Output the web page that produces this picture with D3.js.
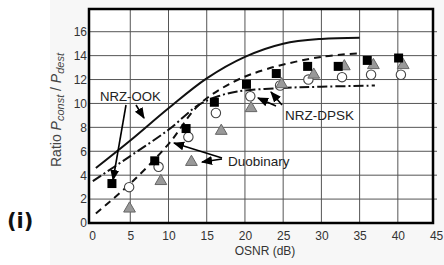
<!DOCTYPE html>
<html lang="en">
<head>
<meta charset="utf-8">
<title>Ratio vs OSNR</title>
<script src="https://d3js.org/d3.v7.min.js"></script>
<style>
  body { margin: 0; background: #fff; }
  svg { display: block; }
  .lbl { font-family: "Liberation Sans", Arial, sans-serif; fill: #222; }
  .tick text { font-family: "Liberation Sans", Arial, sans-serif; font-size: 12px; fill: #333; }
</style>
</head>
<body>
<script>
// tick labels
var xTicks = [0, 5, 10, 15, 20, 25, 30, 35, 40, 45];
var yTicks = [0, 2, 4, 6, 8, 10, 12, 14, 16];

var ookX = [2.6, 8.2, 12.3, 16.0, 20.2, 24.1, 28.2, 32.2, 36.0, 40.1];
var ookY = [3.3, 5.2, 7.9, 10.1, 11.6, 12.5, 13.1, 13.1, 13.6, 13.8];
var dpskX = [4.85, 8.7, 12.6, 16.2, 20.7, 24.6, 28.3, 32.7, 36.5, 40.4];
var dpskY = [3.0, 4.7, 7.2, 9.2, 10.6, 11.5, 12.0, 12.2, 12.4, 12.4];
var duoX = [4.9, 9.0, 13.0, 16.9, 20.8, 24.8, 29.0, 33.0, 36.8, 40.7];
var duoY = [1.2, 3.5, 5.1, 7.7, 9.6, 11.6, 12.4, 13.1, 13.2, 13.2];

// fitted curves
var ookCurveX = [0.5, 5, 10, 15, 20, 25, 30, 35];
var ookCurveY = [4.6, 6.9, 9.6, 12.1, 13.9, 15.0, 15.4, 15.5];
var dpskCurveX = [0.1, 5, 10, 14, 16.5, 19, 25, 30, 37];
var dpskCurveY = [3.5, 5.6, 7.8, 9.9, 10.6, 11.0, 11.3, 11.4, 11.5];
var duoCurveX = [0.5, 5, 10, 14, 18.5, 23, 30, 35];
var duoCurveY = [0.8, 3.3, 6.6, 9.9, 11.8, 12.9, 13.9, 14.2];

var W = 444, H = 265;
var svg = d3.select("body").append("svg").attr("width", W).attr("height", H);

svg.append("rect").attr("x", 50).attr("y", 0).attr("width", W - 50).attr("height", H).attr("fill", "#f7f7f7");

var x = d3.scaleLinear().domain([-0.4, 44.6]).range([89, 433]);
var y = d3.scaleLinear().domain([0, 17.9]).range([223, 9]);

svg.append("rect").attr("x", 89).attr("y", 9).attr("width", 344).attr("height", 214).attr("fill", "#fff");

// grid
svg.append("g").selectAll("line").data(yTicks.filter(d => d > 0)).enter().append("line")
  .attr("x1", 89).attr("x2", 437).attr("y1", d => y(d)).attr("y2", d => y(d))
  .attr("stroke", "#555").attr("stroke-width", 1);
svg.append("g").selectAll("line").data(xTicks.filter(d => d > 0 && d < 45)).enter().append("line")
  .attr("y1", 9).attr("y2", 223).attr("x1", d => x(d)).attr("x2", d => x(d))
  .attr("stroke", "#555").attr("stroke-width", 1);

// axes
var xa = svg.append("g").attr("transform", "translate(0,223)")
  .call(d3.axisBottom(x).tickValues(xTicks).tickSize(0).tickPadding(8));
var ya = svg.append("g").attr("transform", "translate(89,0)")
  .call(d3.axisLeft(y).tickValues(yTicks).tickSize(0).tickPadding(2));
xa.select(".domain").remove();
ya.select(".domain").remove();

// frame
svg.append("rect").attr("x", 89).attr("y", 9).attr("width", 344).attr("height", 214)
  .attr("fill", "none").attr("stroke", "#000").attr("stroke-width", 2.5);

// curves
var line = d3.line().x(d => x(d[0])).y(d => y(d[1])).curve(d3.curveCatmullRom);
function curve(xs, ys, dash) {
  svg.append("path").datum(d3.zip(xs, ys)).attr("d", line)
    .attr("fill", "none").attr("stroke", "#111").attr("stroke-width", 2)
    .attr("stroke-dasharray", dash);
}
curve(ookCurveX, ookCurveY, null);
curve(dpskCurveX, dpskCurveY, "10,3,2,3");
curve(duoCurveX, duoCurveY, "7,5");

// markers
svg.append("g").selectAll("circle").data(d3.zip(dpskX, dpskY)).enter().append("circle")
  .attr("cx", d => x(d[0])).attr("cy", d => y(d[1])).attr("r", 4.7)
  .attr("fill", "#fff").attr("stroke", "#444").attr("stroke-width", 1.1);
var tri = d3.symbol().type(d3.symbolTriangle).size(60);
svg.append("g").selectAll("path").data(d3.zip(duoX, duoY)).enter().append("path")
  .attr("d", tri).attr("transform", d => "translate(" + x(d[0]) + "," + y(d[1]) + ")")
  .attr("fill", "#999").attr("stroke", "#666").attr("stroke-width", 1);
svg.append("g").selectAll("rect").data(d3.zip(ookX, ookY)).enter().append("rect")
  .attr("x", d => x(d[0]) - 4.5).attr("y", d => y(d[1]) - 4.5).attr("width", 9).attr("height", 9)
  .attr("fill", "#000");

// arrows
var defs = svg.append("defs");
defs.append("marker").attr("id", "ah").attr("viewBox", "0 0 10 10").attr("refX", 9).attr("refY", 5)
  .attr("markerWidth", 7).attr("markerHeight", 7).attr("orient", "auto")
  .append("path").attr("d", "M0,1 L10,5 L0,9 Z").attr("fill", "#000");
var arrows = [
  [126, 105, 113, 180], [136, 105, 144, 118],
  [222, 158, 174, 143], [222, 159, 202, 162],
  [276, 106, 258, 98], [282, 105, 271, 92]
];
svg.append("g").selectAll("line").data(arrows).enter().append("line")
  .attr("x1", d => d[0]).attr("y1", d => d[1]).attr("x2", d => d[2]).attr("y2", d => d[3])
  .attr("stroke", "#000").attr("stroke-width", 1.6).attr("marker-end", "url(#ah)");

// labels
svg.append("text").attr("class", "lbl").attr("x", 100).attr("y", 101).attr("font-size", 13.2).text("NRZ-OOK");
svg.append("text").attr("class", "lbl").attr("x", 285).attr("y", 120).attr("font-size", 13.5).text("NRZ-DPSK");
svg.append("text").attr("class", "lbl").attr("x", 228).attr("y", 166).attr("font-size", 13.5).text("Duobinary");

svg.append("text").attr("class", "lbl").attr("x", 265).attr("y", 255).attr("text-anchor", "middle")
  .attr("font-size", 12).style("fill", "#333").text("OSNR (dB)");

var yl = svg.append("text").attr("class", "lbl").attr("transform", "translate(61,110) rotate(-90)")
  .attr("text-anchor", "middle").attr("font-size", 14).style("fill", "#444");
yl.append("tspan").text("Ratio ");
yl.append("tspan").attr("font-style", "italic").text("P");
yl.append("tspan").attr("font-style", "italic").attr("font-size", 11).attr("dy", 3).text("const");
yl.append("tspan").attr("dy", -3).text(" / ");
yl.append("tspan").attr("font-style", "italic").text("P");
yl.append("tspan").attr("font-style", "italic").attr("font-size", 11).attr("dy", 3).text("dest");

svg.append("text").attr("x", 7).attr("y", 228).attr("font-family", "DejaVu Sans")
  .attr("font-weight", "bold").attr("font-size", 21).attr("fill", "#111").text("(i)");
</script>
</body>
</html>
